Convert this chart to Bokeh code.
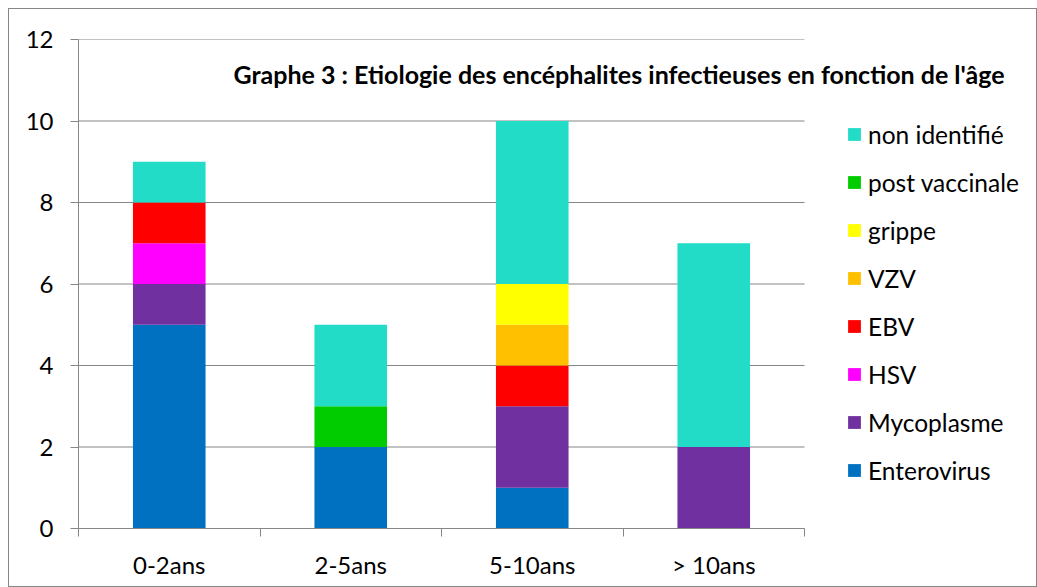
from bokeh.plotting import figure
from bokeh.models import ColumnDataSource, FixedTicker, Legend, LegendItem, Label, Range1d
from bokeh.embed import file_html
from bokeh.resources import INLINE

categories = ["0-2ans", "2-5ans", "5-10ans", "> 10ans"]
series = ["Enterovirus", "Mycoplasme", "HSV", "EBV", "VZV", "grippe", "post vaccinale", "non identifié"]
enterovirus = [5, 2, 1, 0]
mycoplasme = [1, 0, 2, 2]
hsv = [1, 0, 0, 0]
ebv = [1, 0, 1, 0]
vzv = [0, 0, 1, 0]
grippe = [0, 0, 1, 0]
post_vaccinale = [0, 1, 0, 0]
non_identifie = [1, 2, 4, 5]
colors = ["#0070C0", "#7030A0", "#FF00FF", "#FF0000", "#FFC000", "#FFFF00", "#00CC00", "#22DCC8"]
y_ticks = [0, 2, 4, 6, 8, 10, 12]
title_text = "Graphe 3 : Etiologie des encéphalites infectieuses en fonction de l'âge"

FONT = "Lato"
GRAY = "#868686"

n = len(categories)
FRAME_W = 952          # frame spans plot area plus legend zone
PLOT_W = 726           # width of the category axis part
x_end = n * FRAME_W / PLOT_W

xpos = [i + 0.5 for i in range(n)]
data = {"x": xpos}
for name, vals in zip(series, [enterovirus, mycoplasme, hsv, ebv, vzv, grippe, post_vaccinale, non_identifie]):
    data[name] = vals
source = ColumnDataSource(data)

p = figure(output_backend="svg", toolbar_location=None,
           frame_width=FRAME_W, frame_height=489,
           min_border_left=69, min_border_right=6, min_border_top=30, min_border_bottom=58,
           x_range=Range1d(0, x_end), y_range=Range1d(0, 12),
           background_fill_color="white", border_fill_color="white")
p.outline_line_color = None
p.styles = {"margin-left": "8px", "margin-top": "8px", "border": "1px solid " + GRAY}

# gridlines, limited to the category zone
grid_src = ColumnDataSource({"y": y_ticks, "x0": [0] * len(y_ticks), "x1": [n] * len(y_ticks)})
p.segment(x0="x0", x1="x1", y0="y", y1="y", source=grid_src, line_color=GRAY, line_width=1)

renderers = p.vbar_stack(series, x="x", width=0.4, color=colors, source=source, line_color=None)

# axes
p.xaxis.ticker = FixedTicker(ticks=xpos, minor_ticks=list(range(n + 1)))
p.xaxis.major_label_overrides = {x: c for x, c in zip(xpos, categories)}
p.xaxis.bounds = (0, n)
p.xaxis.major_tick_line_color = None
p.xaxis.major_tick_out = 0
p.xaxis.major_tick_in = 0
p.xaxis.minor_tick_out = 8
p.xaxis.minor_tick_in = 0
p.xaxis.minor_tick_line_color = GRAY
p.xaxis.axis_line_color = GRAY
p.xaxis.major_label_standoff = 13
p.xaxis.major_label_text_font = FONT
p.xaxis.major_label_text_font_size = "24px"
p.xaxis.major_label_text_color = "black"

p.yaxis.ticker = FixedTicker(ticks=y_ticks, minor_ticks=[])
p.yaxis.major_tick_out = 8
p.yaxis.major_tick_in = 0
p.yaxis.major_tick_line_color = GRAY
p.yaxis.axis_line_color = GRAY
p.yaxis.major_label_standoff = 17
p.yaxis.major_label_text_font = FONT
p.yaxis.major_label_text_font_size = "24px"
p.yaxis.major_label_text_color = "black"

p.xgrid.grid_line_color = None
p.ygrid.grid_line_color = None

# title inside plot area
p.add_layout(Label(x=2.978, y=11.165, text=title_text, text_align="center", text_baseline="alphabetic",
                   text_font=FONT, text_font_style="bold", text_font_size="25px", text_color="black"))

items = [LegendItem(label=s, renderers=[r]) for s, r in zip(series, renderers)][::-1]
legend = Legend(items=items, location=(768, 43), orientation="vertical",
                glyph_width=16, glyph_height=16, label_height=30, spacing=18,
                label_standoff=6, padding=0, margin=0,
                label_text_font=FONT, label_text_font_size="24.5px", label_text_color="black",
                border_line_color=None, background_fill_alpha=0)
p.add_layout(legend, "center")

open("out.html", "w").write(file_html(p, INLINE))
